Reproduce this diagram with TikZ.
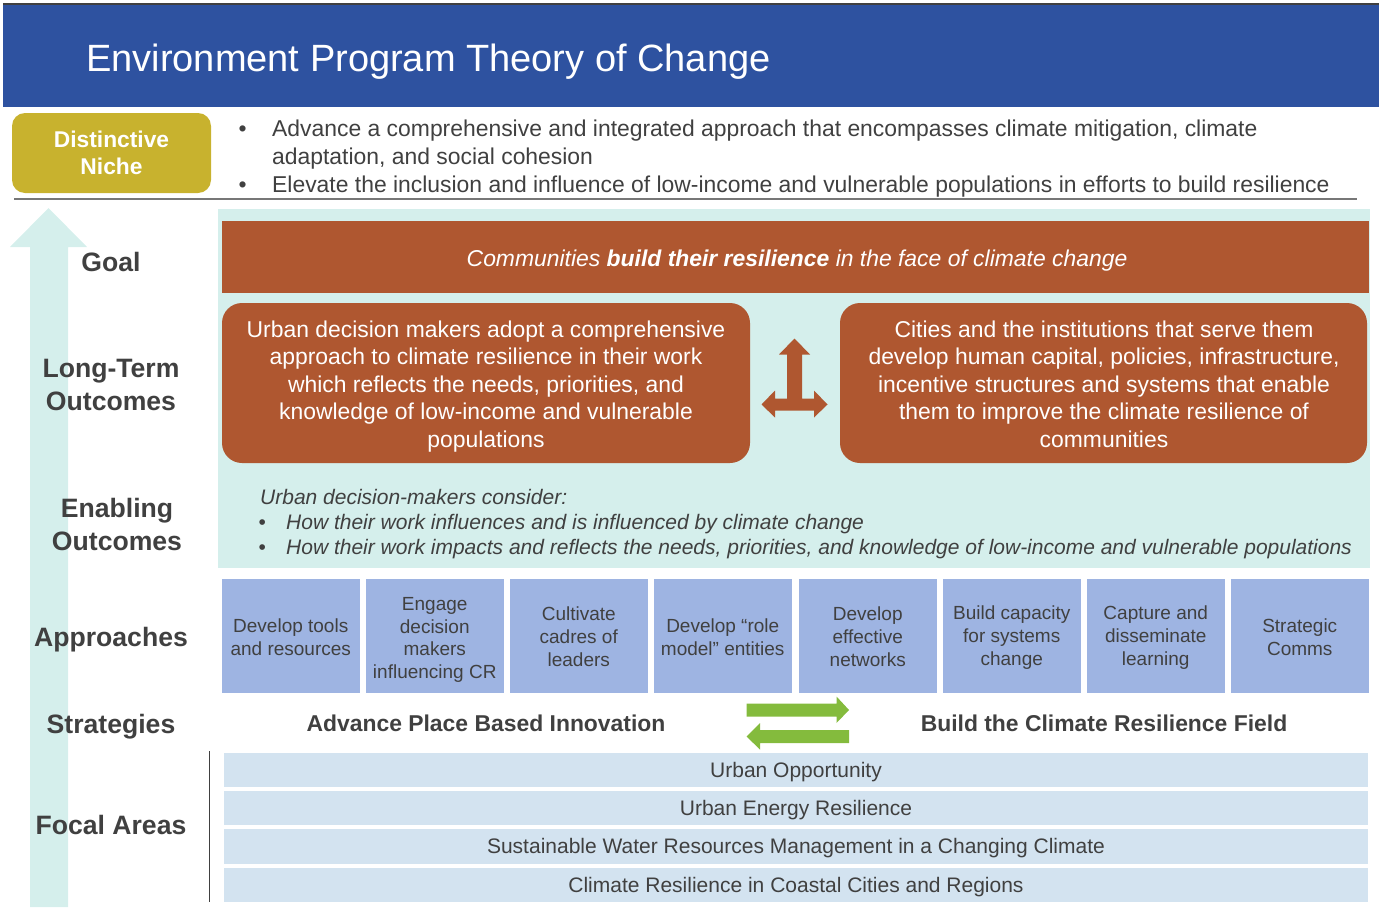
\documentclass[tikz,border=0pt]{standalone}
\usepackage{fontspec}
\setmainfont{Liberation Sans}
\definecolor{titleblue}{HTML}{2E52A0}
\definecolor{niche}{HTML}{C8B22E}
\definecolor{tealbg}{HTML}{D5EFEC}
\definecolor{brick}{HTML}{AF5730}
\definecolor{appblue}{HTML}{9EB4E2}
\definecolor{focblue}{HTML}{D3E3F0}
\definecolor{arrgreen}{HTML}{84BB3D}
\definecolor{txtgrey}{HTML}{404040}
\definecolor{rulegrey}{HTML}{777777}
\newcommand{\fsz}[2]{\fontsize{#1}{#2}\selectfont}
\tikzset{
  blk/.style={anchor=north west, inner sep=0pt, outer sep=0pt, draw=none},
  lefttxt/.style={text=txtgrey, font=\fsz{26.6}{32.5}\bfseries, align=center, inner sep=0pt},
  apptxt/.style={text=txtgrey, font=\fsz{19}{22.8}, align=center},
  foctxt/.style={text=txtgrey, font=\fsz{21}{24}},
  whitetxt/.style={text=white, font=\fsz{22.9}{27.5}, align=center, inner sep=0pt, anchor=base},
  bultxt/.style={text=txtgrey, font=\fsz{22.9}{28}, anchor=base west, inner sep=0pt, align=left},
  enbtxt/.style={text=txtgrey, font=\fsz{21}{25}\itshape, anchor=base west, inner sep=0pt},
}
\begin{document}
\begin{tikzpicture}[x=1pt, y=-1pt]
\useasboundingbox (0,0) rectangle (1385,908);
% title band
\node[blk, fill=titleblue, minimum width=1376, minimum height=104] (band) at (3,3) {};
\fill[txtgrey] (3,3) rectangle (1379,5);
\node[anchor=base west, inner sep=0pt, text=white, font=\fsz{38}{44}] (title) at (86,71.5) {Environment Program Theory of Change};
% distinctive niche
\node[blk, fill=niche, rounded corners=13pt, minimum width=199, minimum height=80] (niche) at (12,113) {};
\node[text=white, font=\fsz{22.8}{27}\bfseries, align=center, inner sep=0pt] (nichetxt) at (niche.center) {Distinctive\\Niche};
\node[bultxt] (b1) at (238.5,136) {•};
\node[bultxt] (t1) at (272,164) {Advance a comprehensive and integrated approach that encompasses climate mitigation, climate\\adaptation, and social cohesion};
\node[bultxt] (b2) at (238.5,192) {•};
\node[bultxt] (t2) at (272,192) {Elevate the inclusion and influence of low-income and vulnerable populations in efforts to build resilience};
\coordinate (r1) at (14,199);
\coordinate (r2) at (1357,199);
\draw[rulegrey, line width=2pt] (r1) -- (r2);
% left arrow
\fill[tealbg] (30,907) -- (30,247) -- (10,247) -- (48.5,208) -- (87,247) -- (68,247) -- (68,907) -- cycle;
% teal background
\node[blk, fill=tealbg, minimum width=1152, minimum height=359] (bg) at (218,209) {};
% goal
\node[blk, fill=brick, minimum width=1147, minimum height=72] (goal) at (222,221) {};
\node[text=white, font=\fsz{22.9}{26}\itshape, inner sep=0pt, anchor=base] (goaltxt) at (797,266) {Communities \textbf{build their resilience} in the face of climate change};
% long-term outcomes
\node[blk, fill=brick, rounded corners=20pt, minimum width=528, minimum height=160] (lt1) at (222,303) {};
\node[whitetxt] (lt1txt) at (486,447) {Urban decision makers adopt a comprehensive\\approach to climate resilience in their work\\which reflects the needs, priorities, and\\knowledge of low-income and vulnerable\\populations};
\node[blk, fill=brick, rounded corners=20pt, minimum width=527, minimum height=160] (lt2) at (840,303) {};
\node[whitetxt] (lt2txt) at (1104,447) {Cities and the institutions that serve them\\develop human capital, policies, infrastructure,\\incentive structures and systems that enable\\them to improve the climate resilience of\\communities};
% cross arrow
\fill[brick] (794.5,338.5) -- (810,354.5) -- (802,354.5) -- (802,398.5) -- (814,398.5) -- (814,390.5) -- (827.5,404.5) -- (814,417.5) -- (814,410.5) -- (775,410.5) -- (775,417.5) -- (761.5,404.5) -- (775,390.5) -- (775,398.5) -- (787,398.5) -- (787,354.5) -- (779,354.5) -- cycle;
% enabling
\node[enbtxt] (e0) at (260,504.5) {Urban decision-makers consider:};
\node[enbtxt, font=\fsz{21}{25}] (eb1) at (258.5,529.5) {•};
\node[enbtxt] (e1) at (286,529.5) {How their work influences and is influenced by climate change};
\node[enbtxt, font=\fsz{21}{25}] (eb2) at (258.5,554.5) {•};
\node[enbtxt] (e2) at (286,554.5) {How their work impacts and reflects the needs, priorities, and knowledge of low-income and vulnerable populations};
% approaches
\foreach \i/\x/\dy/\t in {1/222/1.5/{Develop tools\\and resources},
                      2/366/4/{Engage\\decision\\makers\\influencing CR},
                      3/510/0.5/{Cultivate\\cadres of\\leaders},
                      4/654/1.5/{Develop “role\\model” entities},
                      5/799/0.5/{Develop\\effective\\networks},
                      6/943/1.5/{Build capacity\\for systems\\change},
                      7/1087/1.5/{Capture and\\disseminate\\learning},
                      8/1231/1.5/{Strategic\\Comms}} {
  \node[blk, fill=appblue, minimum width=137.5, minimum height=114] (a\i) at (\x,579) {};
  \node[apptxt] (at\i) at ([yshift=-\dy pt]a\i.center) {\t};
}
% strategies
\node[text=txtgrey, font=\fsz{22.9}{26}\bfseries, inner sep=0pt] (s1) at (486,723.5) {Advance Place Based Innovation};
\node[text=txtgrey, font=\fsz{22.9}{26}\bfseries, inner sep=0pt] (s2) at (1104,723.5) {Build the Climate Resilience Field};
\fill[arrgreen] (746.5,703.5) -- (836.5,703.5) -- (836.5,696.5) -- (849,710) -- (836.5,723) -- (836.5,716.5) -- (746.5,716.5) -- cycle;
\fill[arrgreen] (849,730) -- (760,730) -- (760,723) -- (746.5,736.5) -- (760,749.5) -- (760,743) -- (849,743) -- cycle;
% focal areas
\foreach \i/\y/\h/\t in {1/753/34/{Urban Opportunity},
                         2/791/34/{Urban Energy Resilience},
                         3/829/35/{Sustainable Water Resources Management in a Changing Climate},
                         4/868/34/{Climate Resilience in Coastal Cities and Regions}} {
  \node[blk, fill=focblue, minimum width=1144, minimum height=\h] (f\i) at (224,\y) {};
  \node[foctxt, inner sep=0pt] (ft\i) at ([yshift=-2pt]f\i.center) {\t};
}
\coordinate (v1) at (209.5,751);
\coordinate (v2) at (209.5,902);
\draw[txtgrey, line width=1.5pt] (v1) -- (v2);
% left labels
\node[lefttxt] (lgoal) at (111,262) {Goal};
\node[lefttxt] (llt) at (111,385) {Long-Term\\Outcomes};
\node[lefttxt] (len) at (117,524.5) {Enabling\\Outcomes};
\node[lefttxt] (lap) at (111,640) {Approaches};
\node[lefttxt] (lst) at (111,727) {Strategies};
\node[lefttxt] (lfo) at (111,825) {Focal Areas};
\end{tikzpicture}
\end{document}
